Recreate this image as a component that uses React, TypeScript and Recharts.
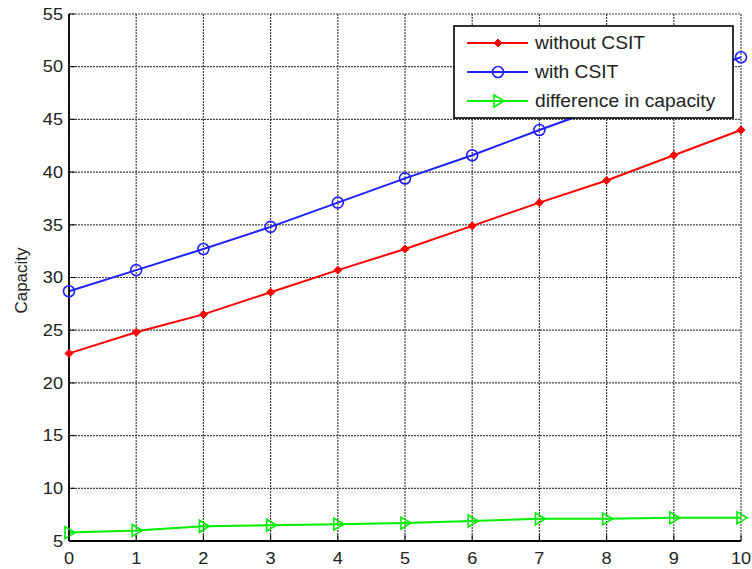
import React from 'react';
import { LineChart, Line, XAxis, YAxis, CartesianGrid } from 'recharts';

const xValues = [0, 1, 2, 3, 4, 5, 6, 7, 8, 9, 10];
const withoutCSIT = [22.8, 24.8, 26.5, 28.6, 30.7, 32.7, 34.9, 37.1, 39.2, 41.6, 44.0];
const withCSIT = [28.7, 30.7, 32.7, 34.8, 37.1, 39.4, 41.6, 44.0, 46.3, 48.7, 50.9];
const difference = [5.8, 6.0, 6.4, 6.5, 6.6, 6.7, 6.9, 7.1, 7.1, 7.2, 7.2];
const xTicks = [0, 1, 2, 3, 4, 5, 6, 7, 8, 9, 10];
const yTicks = [5, 10, 15, 20, 25, 30, 35, 40, 45, 50, 55];
const seriesNames = ['without CSIT', 'with CSIT', 'difference in capacity'];
const seriesColors = ['#ff0000', '#2020ff', '#00ee00'];

const data = xValues.map((x, i) => ({
  x,
  a: withoutCSIT[i],
  b: withCSIT[i],
  c: difference[i],
}));

const FONT = '"Liberation Sans", Arial, sans-serif';
const SX = 1.1;

const Diamond = (props: any) => {
  const { cx, cy, fill } = props;
  if (cx == null || cy == null) return null;
  const r = 4;
  return <path d={`M${cx},${cy - r}L${cx + r},${cy}L${cx},${cy + r}L${cx - r},${cy}Z`} fill={fill} stroke={fill} strokeWidth={1} />;
};
const Circle = (props: any) => {
  const { cx, cy, stroke } = props;
  if (cx == null || cy == null) return null;
  return <circle cx={cx} cy={cy} r={5.5} fill="none" stroke={stroke} strokeWidth={1.6} />;
};
const Tri = (props: any) => {
  const { cx, cy, stroke } = props;
  if (cx == null || cy == null) return null;
  return <path d={`M${cx - 4},${cy - 6}L${cx + 6},${cy}L${cx - 4},${cy + 6}Z`} fill="none" stroke={stroke} strokeWidth={1.6} />;
};

const LeftTick = (props: any) => {
  const { x, y, payload } = props;
  return (
    <g>
      <line x1={x} y1={y} x2={x + 6} y2={y} stroke="#000" strokeWidth={1} />
      <text transform={`translate(${x - 6},${y}) scale(${SX},1)`} textAnchor="end" dominantBaseline="central" fontSize={16.5} fontFamily={FONT} fill="#222">
        {payload.value}
      </text>
    </g>
  );
};
const BottomTick = (props: any) => {
  const { x, y, payload } = props;
  return (
    <g>
      <line x1={x} y1={y} x2={x} y2={y - 6} stroke="#000" strokeWidth={1} />
      <text transform={`translate(${x},${y + 17}) scale(${SX},1)`} textAnchor="middle" dominantBaseline="central" fontSize={16.5} fontFamily={FONT} fill="#222">
        {payload.value}
      </text>
    </g>
  );
};
const TopTick = (props: any) => {
  const { x, y } = props;
  return <line x1={x} y1={y} x2={x} y2={y + 6} stroke="#000" strokeWidth={1} />;
};
const RightTick = (props: any) => {
  const { x, y } = props;
  return <line x1={x} y1={y} x2={x - 6} y2={y} stroke="#000" strokeWidth={1} />;
};

const LegendBox = () => {
  const markers = [
    (cx: number, cy: number, c: string) => <Diamond cx={cx} cy={cy} fill={c} />,
    (cx: number, cy: number, c: string) => <Circle cx={cx} cy={cy} stroke={c} />,
    (cx: number, cy: number, c: string) => <Tri cx={cx} cy={cy} stroke={c} />,
  ];
  return (
    <svg width={281} height={94} style={{ display: 'block' }}>
      <rect x={1} y={1} width={279} height={92} fill="#fff" stroke="#000" strokeWidth={1.6} />
      {seriesNames.map((name, i) => {
        const cy = 18 + i * 29;
        return (
          <g key={name}>
            <line x1={14} y1={cy} x2={75} y2={cy} stroke={seriesColors[i]} strokeWidth={2} />
            {markers[i](45, cy, seriesColors[i])}
            <text transform={`translate(82,${cy}) scale(${SX},1)`} dominantBaseline="central" fontSize={17.5} fontFamily={FONT} fill="#222">
              {name}
            </text>
          </g>
        );
      })}
    </svg>
  );
};

export default function App() {
  return (
    <div style={{ position: 'absolute', left: 0, top: 0, width: 752, height: 569, background: '#fff' }}>
      <LineChart
        width={752}
        height={569}
        data={data}
        margin={{ top: 14, right: 11, bottom: 0, left: 0 }}
      >
        <CartesianGrid xAxisId="bottom" yAxisId="left" stroke="#444" strokeDasharray="2 1" strokeWidth={1.2} />
        <XAxis
          xAxisId="bottom"
          dataKey="x"
          type="number"
          domain={[0, 10]}
          ticks={xTicks}
          interval={0}
          height={28}
          tickSize={0}
          tickMargin={0}
          tickLine={false}
          axisLine={{ stroke: '#000', strokeWidth: 1.8 }}
          tick={<BottomTick />}
        />
        <XAxis
          xAxisId="top"
          dataKey="x"
          type="number"
          orientation="top"
          domain={[0, 10]}
          ticks={xTicks}
          interval={0}
          height={0}
          tickSize={0}
          tickMargin={0}
          tickLine={false}
          axisLine={{ stroke: '#000', strokeWidth: 1.8 }}
          tick={<TopTick />}
        />
        <YAxis
          yAxisId="left"
          type="number"
          domain={[5, 55]}
          ticks={yTicks}
          interval={0}
          width={69}
          tickSize={0}
          tickMargin={0}
          tickLine={false}
          axisLine={{ stroke: '#000', strokeWidth: 1.8 }}
          tick={<LeftTick />}
          label={(p: any) => {
            const vb = p.viewBox || {};
            const cy = (vb.y ?? 14) + (vb.height ?? 527) / 2 + 3;
            return (
              <text x={21} y={cy} transform={`rotate(-90 21 ${cy})`} textAnchor="middle" dominantBaseline="central" fontSize={17} fontFamily={FONT} fill="#222">
                Capacity
              </text>
            );
          }}
        />
        <YAxis
          yAxisId="right"
          orientation="right"
          type="number"
          domain={[5, 55]}
          ticks={yTicks}
          interval={0}
          width={0}
          tickSize={0}
          tickMargin={0}
          tickLine={false}
          axisLine={{ stroke: '#000', strokeWidth: 1.8 }}
          tick={<RightTick />}
        />
        <Line xAxisId="bottom" yAxisId="left" type="linear" dataKey="a" name={seriesNames[0]} stroke={seriesColors[0]} strokeWidth={2} dot={<Diamond fill={seriesColors[0]} />} isAnimationActive={false} />
        <Line xAxisId="bottom" yAxisId="left" type="linear" dataKey="b" name={seriesNames[1]} stroke={seriesColors[1]} strokeWidth={2} dot={<Circle stroke={seriesColors[1]} />} isAnimationActive={false} />
        <Line xAxisId="bottom" yAxisId="left" type="linear" dataKey="c" name={seriesNames[2]} stroke={seriesColors[2]} strokeWidth={2} dot={<Tri stroke={seriesColors[2]} />} isAnimationActive={false} />
      </LineChart>
      <div style={{ position: 'absolute', left: 453, top: 25 }}>
        <LegendBox />
      </div>
    </div>
  );
}
